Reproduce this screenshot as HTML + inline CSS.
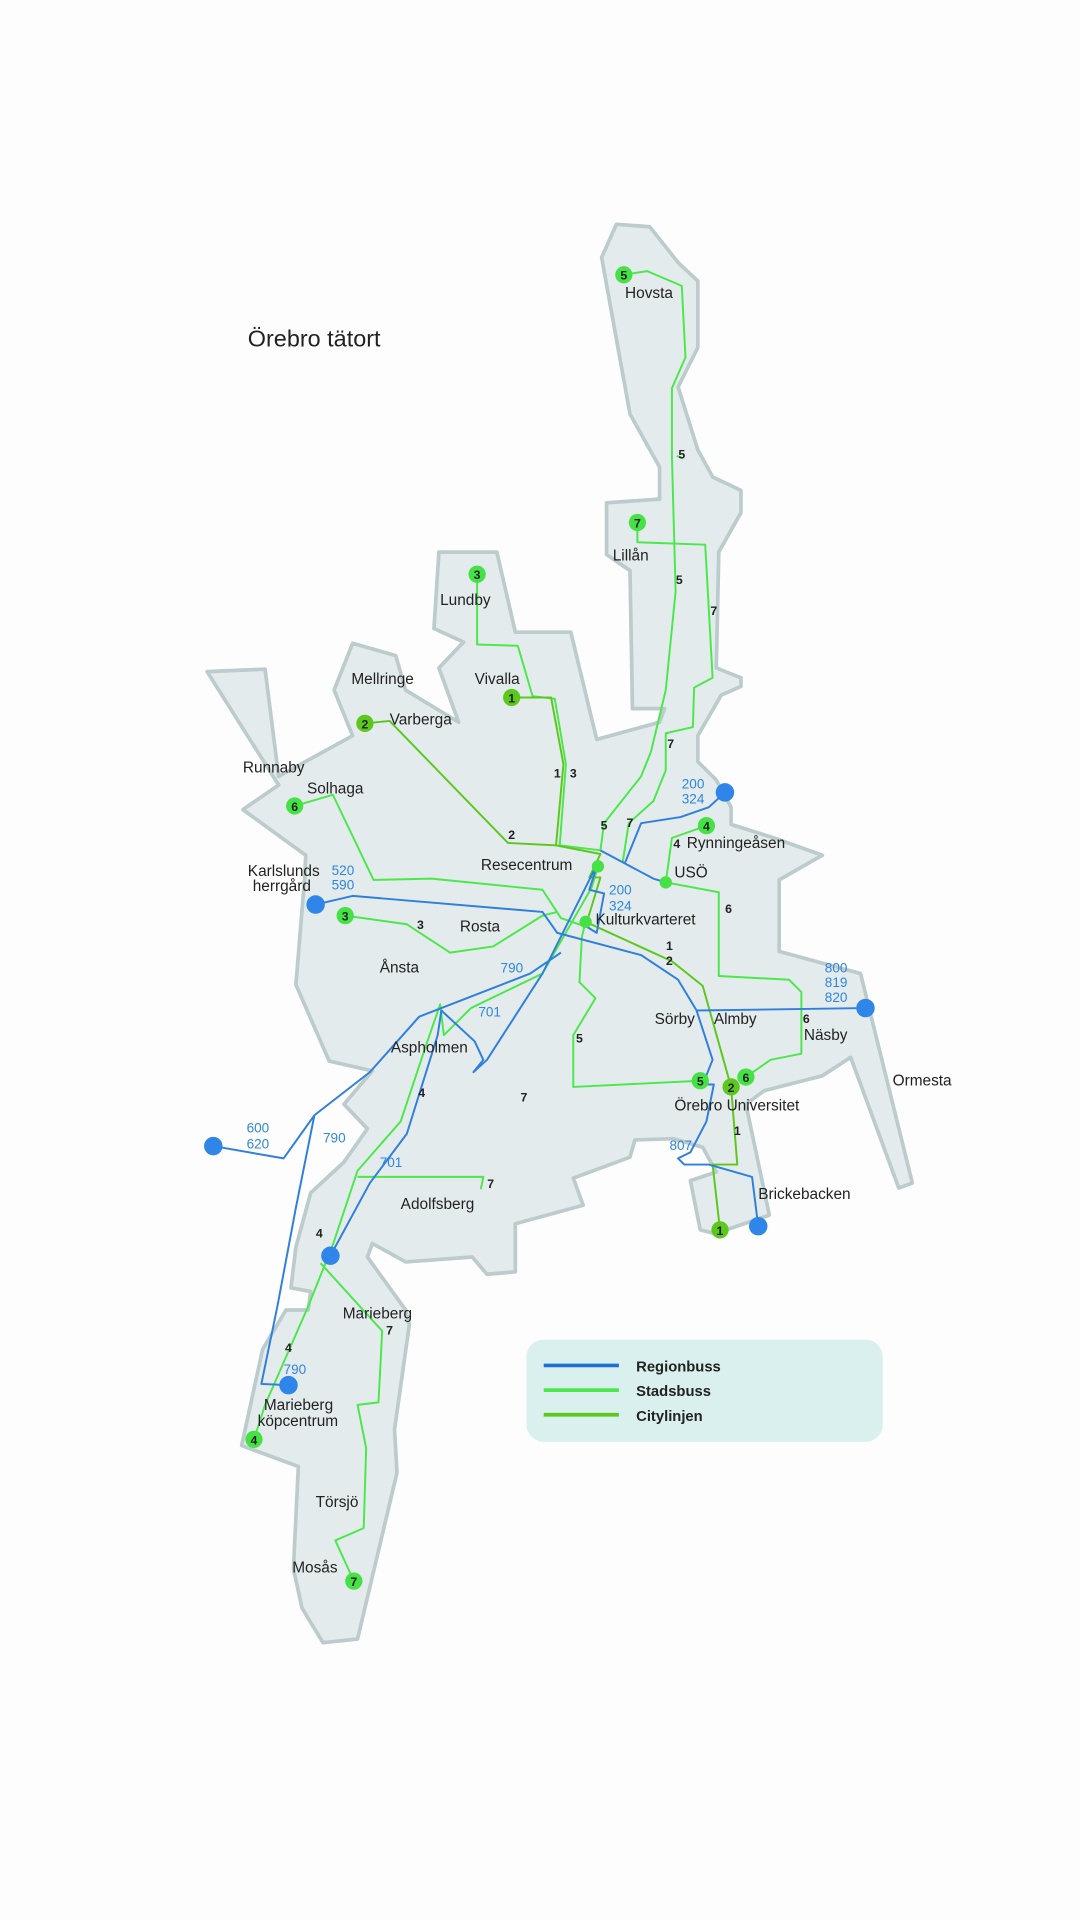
<!DOCTYPE html>
<html><head><meta charset="utf-8"><style>
html,body{margin:0;padding:0;background:#fdfdfd;}
svg{display:block}
text{font-family:"Liberation Sans",sans-serif;fill:#222;}
.l text{font-size:12.5px}
.n text{font-size:10px;font-weight:bold;text-anchor:middle}
.b text{fill:#2f86e0;font-size:11px}
</style></head><body>
<svg width="1080" height="1920" viewBox="0 0 876 1558" preserveAspectRatio="none" xmlns="http://www.w3.org/2000/svg">
<rect width="876" height="1558" fill="#fdfdfd"/>
<path d="M500,182 L527,184 L550,213 L566,228 L566,282 L550,314 L566,365 L578,387 L601,398 L601,416 L583,448 L581,542 L601,550 L601,557 L585,564 L566,597 L566,618 L581,633 L593,655 L593,669 L628,680 L667,694 L632,714 L632,772 L698,790 L740,960 L729,964 L690,858 L667,873 L620,885 L605,896 L624,986 L580,1001 L568,998 L560,958 L581,951 L570,931 L546,924 L515,925 L511,939 L465,956 L473,978 L418,993 L418,1032 L395,1034 L383,1020 L329,1024 L302,1009 L298,1020 L329,1063 L332,1075 L320,1160 L322,1195 L290,1330 L262,1333 L245,1305 L238,1273 L242,1190 L196,1173 L213,1095 L232,1063 L250,1063 L252,1048 L236,1045 L240,1012 L252,968 L279,943 L298,916 L279,896 L302,869 L267,861 L240,799 L247,714 L248,694 L197,657 L226,637 L168,545 L215,543 L226,630 L286,597 L271,560 L286,522 L321,532 L329,560 L372,586 L356,542 L376,521 L352,510 L356,448 L403,448 L418,513 L463,513 L484,600 L535,586 L539,575 L513,575 L511,463 L492,450 L492,408 L535,405 L535,379 L511,336 L488,209 Z" fill="#e4ebed" stroke="#bccbcc" stroke-width="3" stroke-linejoin="round"/>

<g fill="none" stroke-width="1.6" stroke-linejoin="round">
<g stroke="#4be84b">
<polyline points="506,223 525,220 553,232 556,290 545,315 545,370 548,480 540,560 528,610 520,630 490,668 487,690"/>
<polyline points="549,370 554,372"/>
<polyline points="517,424 517,440 572,442 578,550 563,558 562,590 540,595 540,625 530,650 510,668 505,700"/>
<polyline points="387,466 387,523 420,524 432,565 450,567 459,620 454,686 487,690"/>
<polyline points="239,654 270,645 303,714 350,713 440,722 455,745 475,752"/>
<polyline points="540,716 583,724 583,792 640,795 650,805 650,855 625,860 605,874"/>
<polyline points="280,743 330,750 365,773 400,768 440,743 452,740"/>
<polyline points="573,670 545,680 540,716"/>
<polyline points="206,1168 215,1140 250,1060 270,1010 290,950 325,910 345,850 357,815 360,840 382,818 440,790 480,720 485,703"/>
<polyline points="287,1283 272,1250 295,1240 297,1175 290,1140 307,1138 310,1080 260,1025"/>
<polyline points="290,955 392,955 390,965 M392,955 427,945 433,900 427,840 440,815 432,805 458,775 470,760"/>
<polyline points="568,877 465,882 465,840 483,810 470,797 472,760 475,748"/>
</g>
<g stroke="#5cc81e">
<polyline points="415,566 447,566 457,620 451,686"/>
<polyline points="296,587 316,585 412,684 451,686 487,693 478,712 487,712 477,745"/>
<polyline points="475,748 545,780 570,800 593,882 598,945 578,945 584,998"/>
</g>
<g stroke="#2f7fdc">
<polyline points="588,643 575,655 552,663 520,668 507,700"/>
<polyline points="487,690 530,713 540,716"/>
<polyline points="485,700 478,722 490,725 484,757 476,752"/>
<polyline points="256,734 286,727 440,740 452,757 520,775 550,795 565,820 578,860 570,880 579,880 573,910 560,935 550,940 555,945 575,945 610,955 615,995"/>
<polyline points="702,818 565,820"/>
<polyline points="234,1124 212,1123 225,1060 240,980 255,905 300,870 340,825 430,790 455,773"/>
<polyline points="173,930 230,940 255,905"/>
<polyline points="268,1019 300,960 330,920 355,840 358,820 385,845 392,860 384,870 395,860 440,790 485,700"/>
</g>
</g>

<g fill="#2f86e8">
<circle cx="588" cy="643" r="7.5"/><circle cx="256" cy="734" r="7.5"/><circle cx="702" cy="818" r="7.5"/>
<circle cx="173" cy="930" r="7.5"/><circle cx="615" cy="995" r="7.5"/><circle cx="268" cy="1019" r="7.5"/><circle cx="234" cy="1124" r="7.5"/>
</g>
<g fill="#44e244">
<circle cx="485" cy="703" r="5"/><circle cx="540" cy="716" r="5"/><circle cx="475" cy="748" r="5"/>
<circle cx="506" cy="223" r="7"/><circle cx="517" cy="424" r="7"/><circle cx="387" cy="466" r="7"/>
<circle cx="239" cy="654" r="7"/><circle cx="280" cy="743" r="7"/><circle cx="573" cy="670" r="7"/>
<circle cx="568" cy="877" r="7"/><circle cx="605" cy="874" r="7"/><circle cx="206" cy="1168" r="7"/><circle cx="287" cy="1283" r="7"/>
</g>
<g fill="#5cc81e">
<circle cx="415" cy="566" r="7"/><circle cx="296" cy="587" r="7"/><circle cx="593" cy="882" r="7"/><circle cx="584" cy="998" r="7"/>
</g>
<g class="n">
<text x="506" y="227">5</text><text x="517" y="428">7</text><text x="387" y="470">3</text><text x="415" y="570">1</text>
<text x="296" y="591">2</text><text x="239" y="658">6</text><text x="280" y="747">3</text><text x="573" y="674">4</text>
<text x="568" y="881">5</text><text x="593" y="886">2</text><text x="605" y="878">6</text><text x="584" y="1002">1</text>
<text x="206" y="1172">4</text><text x="287" y="1287">7</text>
<text x="553" y="372">5</text><text x="551" y="474">5</text><text x="579" y="499">7</text><text x="544" y="607">7</text>
<text x="452" y="631">1</text><text x="465" y="631">3</text><text x="490" y="673">5</text><text x="511" y="671">7</text>
<text x="415" y="681">2</text><text x="549" y="688">4</text><text x="591" y="741">6</text><text x="341" y="754">3</text>
<text x="543" y="771">1</text><text x="543" y="783">2</text><text x="654" y="830">6</text><text x="470" y="846">5</text>
<text x="342" y="890">4</text><text x="425" y="894">7</text><text x="598" y="921">1</text><text x="398" y="964">7</text>
<text x="259" y="1004">4</text><text x="316" y="1083">7</text><text x="234" y="1097">4</text>
</g>
<g class="b">
<text x="553" y="640">200</text><text x="553" y="652">324</text>
<text x="494" y="726">200</text><text x="494" y="739">324</text>
<text x="269" y="710">520</text><text x="269" y="722">590</text>
<text x="669" y="789">800</text><text x="669" y="801">819</text><text x="669" y="813">820</text>
<text x="406" y="789">790</text><text x="388" y="825">701</text><text x="200" y="919">600</text><text x="200" y="932">620</text>
<text x="262" y="927">790</text><text x="308" y="947">701</text><text x="543" y="933">807</text><text x="230" y="1115">790</text>
</g>
<g class="l">
<text x="201" y="281" style="font-size:19px">Örebro tätort</text>
<text x="507" y="242">Hovsta</text><text x="497" y="455">Lillån</text><text x="357" y="491">Lundby</text>
<text x="285" y="555">Mellringe</text><text x="385" y="555">Vivalla</text><text x="316" y="588">Varberga</text>
<text x="197" y="627">Runnaby</text><text x="249" y="644">Solhaga</text>
<text x="557" y="688">Rynningeåsen</text><text x="390" y="706">Resecentrum</text><text x="547" y="712">USÖ</text>
<text x="201" y="711">Karlslunds</text><text x="205" y="723">herrgård</text>
<text x="483" y="750">Kulturkvarteret</text><text x="373" y="756">Rosta</text><text x="308" y="789">Ånsta</text>
<text x="531" y="831">Sörby</text><text x="579" y="831">Almby</text><text x="652" y="844">Näsby</text>
<text x="724" y="881">Ormesta</text><text x="317" y="854">Aspholmen</text><text x="547" y="901">Örebro Universitet</text>
<text x="615" y="973">Brickebacken</text><text x="325" y="981">Adolfsberg</text><text x="278" y="1070">Marieberg</text>
<text x="214" y="1144">Marieberg</text><text x="209" y="1157">köpcentrum</text><text x="256" y="1223">Törsjö</text><text x="237" y="1276">Mosås</text>
</g>

<rect x="427" y="1087" width="289" height="83" rx="14" fill="#d9f0ef"/>
<line x1="441" y1="1108" x2="502" y2="1108" stroke="#1f6fd0" stroke-width="3"/>
<line x1="441" y1="1128" x2="502" y2="1128" stroke="#4be84b" stroke-width="3"/>
<line x1="441" y1="1148" x2="502" y2="1148" stroke="#5cc81e" stroke-width="3"/>
<g style="font-size:12px;font-weight:bold"><text x="516" y="1113">Regionbuss</text><text x="516" y="1133">Stadsbuss</text><text x="516" y="1153">Citylinjen</text></g>
</svg>
</body></html>
